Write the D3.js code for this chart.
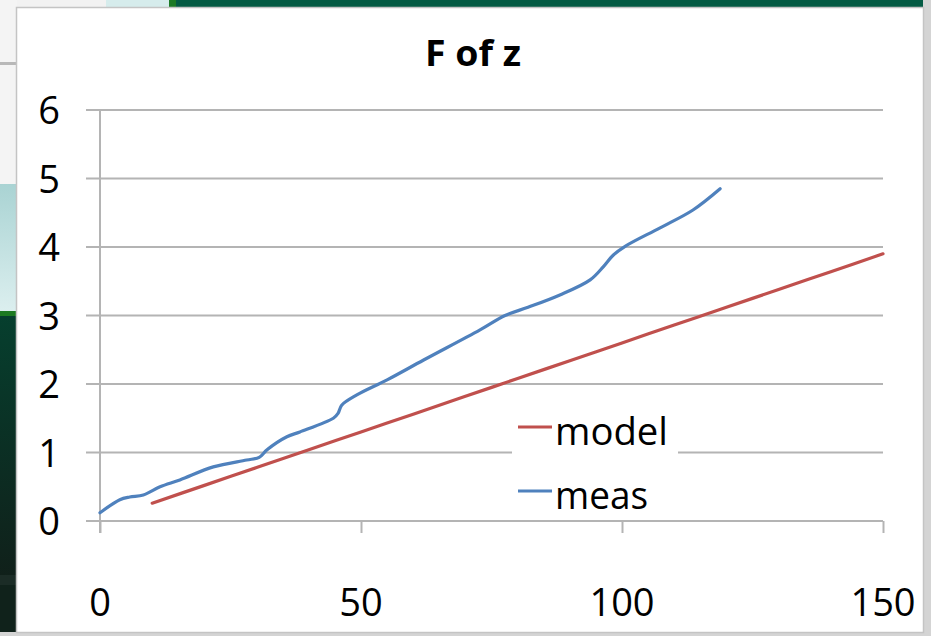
<!DOCTYPE html>
<html>
<head>
<meta charset="utf-8">
<script src="https://cdn.jsdelivr.net/npm/d3@7"></script>
<style>
  html, body { margin: 0; padding: 0; background: #0f2a20; }
  svg { display: block; }
</style>
</head>
<body>
<svg id="chart" width="931" height="636"></svg>
<script>
// Series: model prediction and measured values of F along z
const modelZ = [10, 20, 30, 40, 50, 60, 70, 80, 90, 100, 110, 120, 130, 140, 150];
const modelF = [0.26, 0.52, 0.78, 1.04, 1.30, 1.56, 1.82, 2.08, 2.34, 2.60, 2.86, 3.12, 3.38, 3.64, 3.90];

const measZ = [0, 3.8, 5.7, 8.3, 11.5, 15.3, 21.7, 28.1, 30.5, 32, 35.8, 38.3, 44.7, 45.6, 46.3, 49.2,
               55, 62, 72.8, 77.6, 82, 88.1, 93.9, 96.4, 98.3, 100.6, 107.3, 113.6, 118.8];
const measF = [0.12, 0.31, 0.35, 0.38, 0.50, 0.60, 0.79, 0.89, 0.93, 1.04, 1.23, 1.30, 1.50, 1.57, 1.69, 1.84,
               2.06, 2.35, 2.79, 3.00, 3.12, 3.30, 3.52, 3.71, 3.88, 4.01, 4.28, 4.54, 4.85];

const xTicks = [0, 50, 100, 150];
const yTicks = [0, 1, 2, 3, 4, 5, 6];
const seriesNames = ["model", "meas"];
const seriesColors = ["#c0504d", "#4f81bd"];
const title = "F of z";

const svg = d3.select("#chart");
const W = 931, H = 636;
const font = "'Open Sans', 'Liberation Sans', sans-serif";

// ---- surrounding slide backdrop ----
const bg = svg.append("g");
const defs = svg.append("defs");
const grad = defs.append("linearGradient")
  .attr("id", "cyan").attr("x1", 0).attr("y1", 0).attr("x2", 0).attr("y2", 1);
grad.append("stop").attr("offset", "0%").attr("stop-color", "#a9d3d3");
grad.append("stop").attr("offset", "100%").attr("stop-color", "#dcefef");
const dark = defs.append("linearGradient")
  .attr("id", "dark").attr("x1", 0).attr("y1", 0).attr("x2", 0).attr("y2", 1);
dark.append("stop").attr("offset", "0%").attr("stop-color", "#063f2e");
dark.append("stop").attr("offset", "100%").attr("stop-color", "#10201a");
bg.append("rect").attr("x", 0).attr("y", 0).attr("width", W).attr("height", H).attr("fill", "#10221b");
bg.append("rect").attr("x", 0).attr("y", 0).attr("width", W).attr("height", 8).attr("fill", "#045b44");
bg.append("rect").attr("x", 0).attr("y", 0).attr("width", 106).attr("height", 8).attr("fill", "#f2f2f2");
bg.append("rect").attr("x", 106).attr("y", 0).attr("width", 63).attr("height", 8).attr("fill", "#d6ecec");
bg.append("rect").attr("x", 169).attr("y", 0).attr("width", 7).attr("height", 8).attr("fill", "#1d7a26");
bg.append("rect").attr("x", 0).attr("y", 0).attr("width", 17).attr("height", 184).attr("fill", "#f4f4f4");
bg.append("rect").attr("x", 0).attr("y", 62).attr("width", 17).attr("height", 3).attr("fill", "#b8b8b8");
bg.append("rect").attr("x", 0).attr("y", 184).attr("width", 17).attr("height", 128).attr("fill", "url(#cyan)");
bg.append("rect").attr("x", 0).attr("y", 311).attr("width", 17).attr("height", 5).attr("fill", "#1c7a22");
bg.append("rect").attr("x", 0).attr("y", 316).attr("width", 17).attr("height", 260).attr("fill", "url(#dark)");
bg.append("rect").attr("x", 0).attr("y", 575).attr("width", 17).attr("height", 10).attr("fill", "#1b2c26");
bg.append("rect").attr("x", 923).attr("y", 0).attr("width", 8).attr("height", H).attr("fill", "#d4d4d4");
bg.append("rect").attr("x", 0).attr("y", 632).attr("width", W).attr("height", 4).attr("fill", "#d4d4d4");

// ---- chart panel ----
svg.append("rect")
  .attr("x", 16.5).attr("y", 7.5).attr("width", 907).attr("height", 625)
  .attr("fill", "#ffffff").attr("stroke", "#c4c4c4").attr("stroke-width", 1.5);

const x = d3.scaleLinear().domain([0, 150]).range([100, 883]);
const y = d3.scaleLinear().domain([0, 6]).range([521, 110]);
const gridColor = "#b4b4b4";

// horizontal gridlines (extend left as tick marks)
svg.append("g").selectAll("line").data(yTicks.filter(d => d > 0)).join("line")
  .attr("x1", 86).attr("x2", x(150))
  .attr("y1", d => y(d)).attr("y2", d => y(d))
  .attr("stroke", gridColor).attr("stroke-width", 2);

// y axis
svg.append("line").attr("x1", 100).attr("x2", 100).attr("y1", y(6)).attr("y2", 533)
  .attr("stroke", gridColor).attr("stroke-width", 2);
svg.append("g").selectAll("text").data(yTicks).join("text")
  .attr("x", 49).attr("y", d => y(d) + 14)
  .attr("text-anchor", "middle")
  .attr("font-family", font).attr("font-size", 38).attr("fill", "#000")
  .text(d => d);

// x axis
const xAxis = d3.axisBottom(x).tickValues(xTicks).tickSize(12).tickFormat("");
const gx = svg.append("g").attr("transform", `translate(0,${y(0)})`).call(xAxis);
gx.select(".domain").remove();
gx.selectAll("line").attr("stroke", gridColor).attr("stroke-width", 2);
svg.append("line").attr("x1", 86).attr("x2", x(150)).attr("y1", y(0)).attr("y2", y(0))
  .attr("stroke", gridColor).attr("stroke-width", 2);
svg.append("g").selectAll("text").data(xTicks).join("text")
  .attr("x", d => x(d)).attr("y", 616)
  .attr("text-anchor", "middle")
  .attr("font-family", font).attr("font-size", 38).attr("fill", "#000")
  .text(d => d);

// title
svg.append("text")
  .attr("x", 473).attr("y", 66)
  .attr("text-anchor", "middle")
  .attr("font-family", font).attr("font-weight", "bold").attr("font-size", 36)
  .attr("textLength", 96).attr("lengthAdjust", "spacingAndGlyphs")
  .attr("fill", "#000").text(title);

// legend box (covers gridline behind it)
svg.append("rect").attr("x", 512).attr("y", 400).attr("width", 166).attr("height", 116).attr("fill", "#fff");

// lines
const curve = d3.curveCatmullRom.alpha(0.5);
const line = d3.line().x(d => x(d[0])).y(d => y(d[1])).curve(curve);
const modelPts = modelZ.map((z, i) => [z, modelF[i]]);
const measPts = measZ.map((z, i) => [z, measF[i]]);

svg.append("path").datum(modelPts).attr("d", line)
  .attr("fill", "none").attr("stroke", seriesColors[0]).attr("stroke-width", 3.2)
  .attr("stroke-linecap", "round");
svg.append("path").datum(measPts).attr("d", line)
  .attr("fill", "none").attr("stroke", seriesColors[1]).attr("stroke-width", 3.2)
  .attr("stroke-linecap", "round");

// legend entries
const legendY = [427, 491];
const legendW = [113, 93];
const lg = svg.append("g").selectAll("g").data(seriesNames).join("g");
lg.append("line")
  .attr("x1", 518).attr("x2", 552)
  .attr("y1", (d, i) => legendY[i]).attr("y2", (d, i) => legendY[i])
  .attr("stroke", (d, i) => seriesColors[i]).attr("stroke-width", 3);
lg.append("text")
  .attr("x", 555).attr("y", (d, i) => legendY[i] + 18)
  .attr("font-family", font).attr("font-size", 38).attr("fill", "#000")
  .attr("textLength", (d, i) => legendW[i]).attr("lengthAdjust", "spacingAndGlyphs")
  .text(d => d);
</script>
</body>
</html>
